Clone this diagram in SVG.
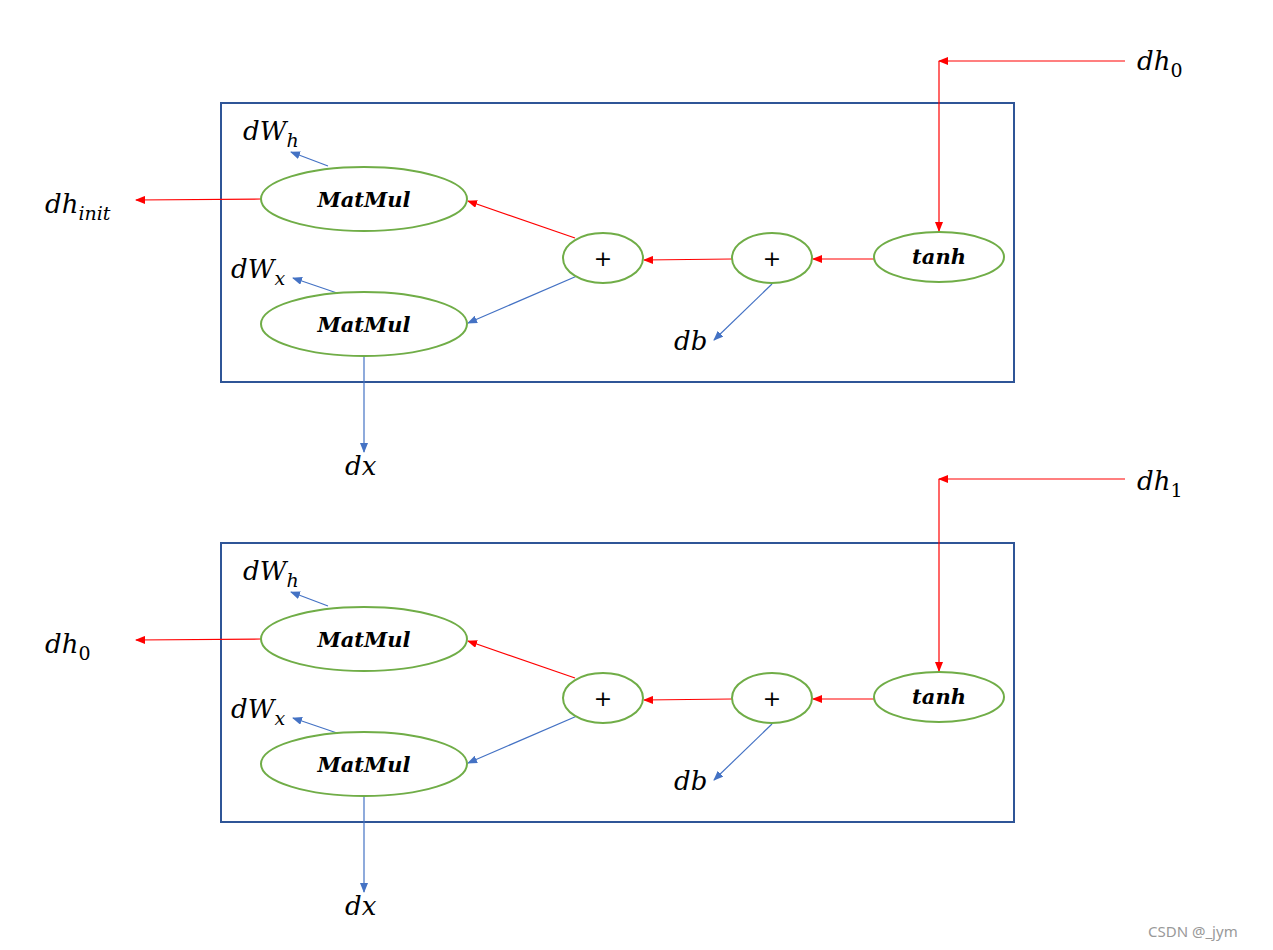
<svg xmlns="http://www.w3.org/2000/svg" width="1273" height="950" viewBox="0 0 1273 950">
<style>
.box{fill:none;stroke:#2F5597;stroke-width:2}
.n{fill:#fff;stroke:#70AD47;stroke-width:2}
.r{stroke:#FF0000;stroke-width:1.2;fill:none;marker-end:url(#ar)}
.rl{stroke:#FF0000;stroke-width:1.2;fill:none}
.b{stroke:#4472C4;stroke-width:1.2;fill:none;marker-end:url(#ab)}
.m{font-family:"DejaVu Serif",serif;font-style:italic;font-size:26px;fill:#000}
.s{font-size:19px}
.mm{font-family:"DejaVu Serif",serif;font-style:italic;font-weight:bold;font-size:21px;text-anchor:middle}
.p{font-family:"DejaVu Sans",sans-serif;font-size:22px;text-anchor:middle}
.w{font-family:"Noto Sans",sans-serif;font-size:15px;fill:#999}
</style>
<defs>
<marker id="ar" markerWidth="10" markerHeight="8" refX="9" refY="4" orient="auto" markerUnits="userSpaceOnUse"><path d="M0,0L10,4L0,8z" fill="#FF0000"/></marker>
<marker id="ab" markerWidth="10" markerHeight="8" refX="9" refY="4" orient="auto" markerUnits="userSpaceOnUse"><path d="M0,0L10,4L0,8z" fill="#4472C4"/></marker>
</defs>
<g id="panel1">
<rect class="box" x="221" y="103" width="793" height="279"/>
<g id="connectors1">
<line class="r" x1="1125" y1="61" x2="939" y2="61"/>
<line class="r" x1="939" y1="61" x2="939" y2="231"/>
<line class="r" x1="874" y1="259" x2="813" y2="259"/>
<line class="r" x1="732" y1="259" x2="644" y2="260"/>
<line class="r" x1="575" y1="238" x2="468" y2="201"/>
<line class="r" x1="261" y1="199" x2="136" y2="200"/>
<line class="b" x1="577" y1="276" x2="468" y2="323"/>
<line class="b" x1="772" y1="284" x2="714" y2="340"/>
<line class="b" x1="328" y1="166" x2="291" y2="152"/>
<line class="b" x1="337" y1="293" x2="293" y2="278"/>
<line class="b" x1="364" y1="356" x2="364" y2="452"/>
</g>
<g id="matmul1a"><ellipse class="n" cx="364" cy="199" rx="103" ry="32"/><text class="mm" x="364" y="207">MatMul</text></g>
<g id="matmul1b"><ellipse class="n" cx="364" cy="324" rx="103" ry="32"/><text class="mm" x="364" y="332">MatMul</text></g>
<g id="plus1a"><ellipse class="n" cx="603" cy="258" rx="40" ry="25"/><text class="p" x="603" y="266">+</text></g>
<g id="plus1b"><ellipse class="n" cx="772" cy="258" rx="40" ry="25"/><text class="p" x="772" y="266">+</text></g>
<g id="tanh1"><ellipse class="n" cx="939" cy="257" rx="65" ry="25"/><text class="mm" x="939" y="264">tanh</text></g>
<text class="m" x="1137" y="70">dh<tspan class="s" dy="7" font-style="normal">0</tspan></text>
<text class="m" x="243" y="140">dW<tspan class="s" dy="7">h</tspan></text>
<text class="m" x="45" y="213">dh<tspan class="s" dy="7">init</tspan></text>
<text class="m" x="231" y="278">dW<tspan class="s" dy="7">x</tspan></text>
<text class="m" x="674" y="350">db</text>
<text class="m" x="345" y="475">dx</text>
</g>
<g id="panel2" transform="translate(0,440)">
<rect class="box" x="221" y="103" width="793" height="279"/>
<g id="connectors2">
<line class="r" x1="1125" y1="39" x2="939" y2="39"/>
<line class="r" x1="939" y1="39" x2="939" y2="231"/>
<line class="r" x1="874" y1="259" x2="813" y2="259"/>
<line class="r" x1="732" y1="259" x2="644" y2="260"/>
<line class="r" x1="575" y1="238" x2="468" y2="201"/>
<line class="r" x1="261" y1="199" x2="136" y2="200"/>
<line class="b" x1="577" y1="276" x2="468" y2="323"/>
<line class="b" x1="772" y1="284" x2="714" y2="340"/>
<line class="b" x1="328" y1="166" x2="291" y2="152"/>
<line class="b" x1="337" y1="293" x2="293" y2="278"/>
<line class="b" x1="364" y1="356" x2="364" y2="452"/>
</g>
<g id="matmul2a"><ellipse class="n" cx="364" cy="199" rx="103" ry="32"/><text class="mm" x="364" y="207">MatMul</text></g>
<g id="matmul2b"><ellipse class="n" cx="364" cy="324" rx="103" ry="32"/><text class="mm" x="364" y="332">MatMul</text></g>
<g id="plus2a"><ellipse class="n" cx="603" cy="258" rx="40" ry="25"/><text class="p" x="603" y="266">+</text></g>
<g id="plus2b"><ellipse class="n" cx="772" cy="258" rx="40" ry="25"/><text class="p" x="772" y="266">+</text></g>
<g id="tanh2"><ellipse class="n" cx="939" cy="257" rx="65" ry="25"/><text class="mm" x="939" y="264">tanh</text></g>
<text class="m" x="1137" y="50">dh<tspan class="s" dy="7" font-style="normal">1</tspan></text>
<text class="m" x="243" y="140">dW<tspan class="s" dy="7">h</tspan></text>
<text class="m" x="45" y="213">dh<tspan class="s" dy="7" font-style="normal">0</tspan></text>
<text class="m" x="231" y="278">dW<tspan class="s" dy="7">x</tspan></text>
<text class="m" x="674" y="350">db</text>
<text class="m" x="345" y="475">dx</text>
</g>
<text class="w" x="1148" y="937">CSDN @_jym</text>
</svg>
